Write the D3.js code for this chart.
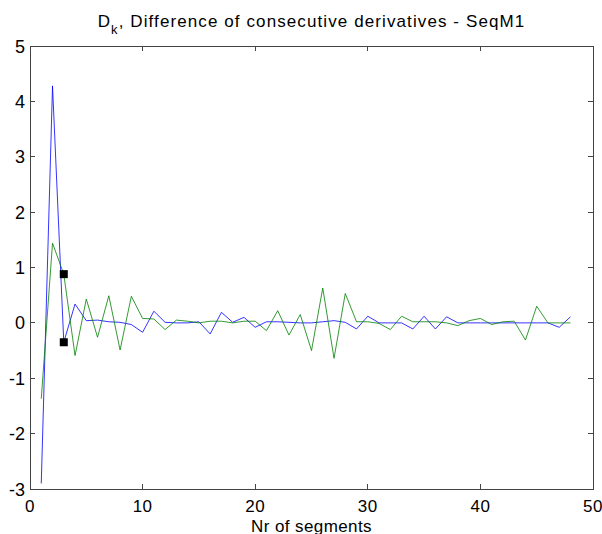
<!DOCTYPE html>
<html>
  <head>
    <meta charset="utf-8" />
    <title>Difference of consecutive derivatives</title>
    <style>
      body { margin: 0; background: #fff; }
      svg text { font-family: "Liberation Sans", Arial, sans-serif; fill: #000; }
    </style>
  </head>
  <body>
    <svg width="602" height="534"></svg>

    <script type="text/javascript" src="https://d3js.org/d3.v7.min.js"></script>
    <script type="text/javascript">
      // segment numbers 1..48
      const segments = d3.range(1, 49);

      const blueValues = [
        -2.9, 4.28, -0.35, 0.34, 0.04, 0.05, 0.02, 0.01, -0.03, -0.17,
        0.21, 0.01, 0.0, 0.0, 0.02, -0.2, 0.19, 0.01, 0.1, -0.08,
        0.02, 0.02, 0.01, 0.0, 0.0, 0.02, 0.04, 0.01, -0.11, 0.12,
        0.0, 0.0, 0.0, -0.11, 0.12, -0.11, 0.11, 0.0, 0.0, 0.0,
        0.0, 0.0, 0.0, 0.0, 0.0, 0.0, -0.08, 0.11
      ];

      const greenValues = [
        -1.37, 1.44, 0.88, -0.59, 0.43, -0.26, 0.49, -0.49, 0.48, 0.08,
        0.07, -0.12, 0.05, 0.03, 0.0, 0.03, 0.03, 0.0, 0.03, 0.03,
        -0.14, 0.22, -0.22, 0.15, -0.5, 0.63, -0.64, 0.53, 0.02, 0.02,
        -0.01, -0.12, 0.12, 0.02, 0.02, 0.02, 0.0, -0.05, 0.04, 0.08,
        -0.03, 0.02, 0.03, -0.31, 0.3, 0.0, 0.0, 0.0
      ];

      // the two black square markers at segment 3
      const markers = [{ x: 3, y: 0.88 }, { x: 3, y: -0.35 }];

      const xTicks = [0, 10, 20, 30, 40, 50];
      const yTicks = [-3, -2, -1, 0, 1, 2, 3, 4, 5];

      const svg = d3.select('svg');
      const box = { left: 30, right: 593, top: 46, bottom: 489 };

      const x = d3.scaleLinear().domain([0, 50]).range([box.left, box.right]);
      const y = d3.scaleLinear().domain([-3, 5]).range([box.bottom, box.top]);

      // axes box
      svg.append('rect')
        .attr('x', box.left).attr('y', box.top)
        .attr('width', box.right - box.left).attr('height', box.bottom - box.top)
        .attr('fill', 'none').attr('stroke', '#444').attr('stroke-width', 1)
        .attr('shape-rendering', 'crispEdges');

      const tickLen = 5;
      const ticks = svg.append('g').attr('stroke', '#444').attr('shape-rendering', 'crispEdges');

      xTicks.forEach(t => {
        ticks.append('line').attr('x1', x(t)).attr('x2', x(t)).attr('y1', box.bottom).attr('y2', box.bottom - tickLen);
        ticks.append('line').attr('x1', x(t)).attr('x2', x(t)).attr('y1', box.top).attr('y2', box.top + tickLen);
      });
      yTicks.forEach(t => {
        ticks.append('line').attr('x1', box.left).attr('x2', box.left + tickLen).attr('y1', y(t)).attr('y2', y(t));
        ticks.append('line').attr('x1', box.right).attr('x2', box.right - tickLen).attr('y1', y(t)).attr('y2', y(t));
      });

      svg.append('g').selectAll('text')
        .data(xTicks).join('text')
        .attr('x', d => x(d)).attr('y', box.bottom + 23)
        .attr('text-anchor', 'middle').attr('font-size', 17)
        .attr('letter-spacing', 0.5)
        .text(d => d);

      svg.append('g').selectAll('text')
        .data(yTicks).join('text')
        .attr('x', box.left - 5).attr('y', d => y(d) + 6.5)
        .attr('text-anchor', 'end').attr('font-size', 18)
        .text(d => d);

      // series lines
      const line = d3.line().x(d => x(d[0])).y(d => y(d[1]));

      svg.append('path')
        .datum(segments.map((s, i) => [s, blueValues[i]]))
        .attr('d', line).attr('fill', 'none')
        .attr('stroke', '#0000ff').attr('stroke-width', 0.8);

      svg.append('path')
        .datum(segments.map((s, i) => [s, greenValues[i]]))
        .attr('d', line).attr('fill', 'none')
        .attr('stroke', '#008000').attr('stroke-width', 0.8);

      svg.append('g').selectAll('rect')
        .data(markers).join('rect')
        .attr('x', d => x(d.x) - 4).attr('y', d => y(d.y) - 4)
        .attr('width', 8).attr('height', 8)
        .attr('fill', '#000');

      // title with subscript k
      const title = svg.append('text')
        .attr('x', (box.left + box.right) / 2).attr('y', 27)
        .attr('text-anchor', 'middle').attr('font-size', 17)
        .attr('letter-spacing', 1.1);
      title.append('tspan').text('D');
      title.append('tspan').attr('font-size', 13).attr('dy', 7).text('k');
      title.append('tspan').attr('dy', -7).text(', Difference of consecutive derivatives - SeqM1');

      svg.append('text')
        .attr('x', (box.left + box.right) / 2).attr('y', 531.5)
        .attr('text-anchor', 'middle').attr('font-size', 17)
        .attr('letter-spacing', 0.4)
        .text('Nr of segments');
    </script>
  </body>
</html>
